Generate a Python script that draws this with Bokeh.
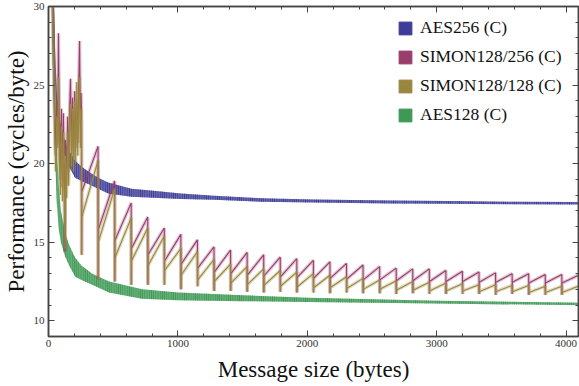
from bokeh.plotting import figure
from bokeh.models import (Range1d, LinearAxis, FixedTicker, Legend, LegendItem,
                          CustomJSTickFormatter)
from bokeh.embed import file_html
from bokeh.resources import INLINE

# ---------------- data ----------------
series_names = ["AES256 (C)", "SIMON128/256 (C)", "SIMON128/128 (C)", "AES128 (C)"]
series_colors = ["#3d3d99", "#993d6b", "#99873d", "#3d9954"]

# AES256: oscillating band, lower / upper envelope
aes256_n = [16, 32, 48, 64, 80, 96, 128, 160, 205, 256, 307, 384, 461, 640, 768,
            1024, 1280, 1643, 2048, 2642, 3072, 3584, 4096]
aes256_hi = [48.0, 34.0, 28.0, 24.5, 23.2, 22.4, 21.4, 20.8, 20.2, 19.8, 19.5, 19.1, 18.8,
             18.4, 18.3, 18.1, 17.95, 17.8, 17.72, 17.66, 17.62, 17.58, 17.56]
aes256_lo = [40.0, 30.5, 25.5, 23.0, 21.8, 21.2, 20.4, 19.8, 19.1, 18.9, 18.7, 18.4, 18.1,
             17.9, 17.85, 17.75, 17.7, 17.57, 17.52, 17.47, 17.44, 17.42, 17.4]

# AES128: oscillating band, lower / upper envelope
aes128_n = [16, 24, 32, 48, 64, 80, 96, 128, 160, 207, 256, 338, 468, 722, 1000,
            1500, 2000, 3000, 4000, 4096]
aes128_hi = [45.0, 38.0, 33.0, 27.0, 21.0, 18.5, 17.0, 15.6, 14.8, 14.0, 13.5, 13.0, 12.5,
             12.0, 11.8, 11.62, 11.47, 11.28, 11.16, 11.14]
aes128_lo = [38.0, 31.0, 27.0, 21.0, 17.5, 15.8, 15.0, 14.1, 13.5, 12.8, 12.6, 12.3, 11.8,
             11.4, 11.3, 11.25, 11.2, 11.1, 11.0, 11.0]

# SIMON, irregular region below 256 bytes
early_n = [16, 24, 32, 40, 48, 56, 64, 72, 77, 84, 92, 100, 108, 115, 122, 128, 132, 140,
           148, 156, 164, 170, 178, 186, 194, 202, 210, 218, 226, 234, 240, 246, 252, 255]
simon256_early = [38, 34, 31, 27, 23, 20.5, 24, 22, 28.3, 21.5, 19.0, 23.5, 18.5, 23.2, 18.8,
                  14.4, 21.5, 18.6, 23.0, 19.5, 23.6, 25.4, 20.8, 24.2, 20.3, 24.6, 21.0,
                  24.1, 21.3, 25.2, 27.8, 22.5, 24.5, 23.5]
simon128_early = [36, 32, 29, 25.5, 22, 19.5, 23, 21, 25.5, 20.5, 18.0, 22.4, 17.6, 22.0, 17.8,
                  14.6, 20.5, 17.8, 22.0, 18.6, 23.0, 23.8, 19.8, 23.5, 19.5, 24.0, 20.0,
                  25.2, 20.5, 24.0, 25.5, 21.0, 23.5, 22.5]

# SIMON, 128-byte teeth starting at these sizes
tooth_n = [256, 384, 512, 640, 768, 896, 1024, 1152, 1280, 1408, 1536, 1664, 1792, 1920,
           2048, 2176, 2304, 2432, 2560, 2688, 2816, 2944, 3072, 3200, 3328, 3456, 3584,
           3712, 3840, 3968]
tooth_dip = [14.2, 12.6, 12.5, 12.3, 12.3, 12.3, 12.0, 12.2, 11.9, 11.9, 11.85, 11.8, 11.85,
             11.8, 11.8, 11.75, 11.8, 11.75, 11.75, 11.7, 11.75, 11.7, 11.7, 11.7, 11.7,
             11.65, 11.7, 11.65, 11.65, 11.65]
simon256_start = [18.2, 15.8, 15.1, 14.6, 14.2, 13.8, 13.6, 13.35, 13.1, 13.0, 12.9, 12.85,
                  12.8, 12.75, 12.7, 12.7, 12.65, 12.6, 12.6, 12.55, 12.55, 12.5, 12.5, 12.5,
                  12.45, 12.45, 12.45, 12.4, 12.4, 12.4]
simon256_peak = [21.1, 18.9, 17.5, 16.6, 15.9, 15.5, 15.15, 14.7, 14.5, 14.35, 14.2, 14.05,
                 13.95, 13.85, 13.75, 13.65, 13.55, 13.45, 13.35, 13.3, 13.3, 13.2, 13.15,
                 13.1, 13.05, 13.0, 13.0, 12.95, 12.95, 12.9]
simon128_start = [16.6, 15.0, 14.0, 13.8, 13.5, 13.2, 12.9, 12.6, 12.5, 12.4, 12.3, 12.25,
                  12.2, 12.15, 12.1, 12.1, 12.05, 12.0, 12.0, 11.95, 11.95, 11.9, 11.9, 11.9,
                  11.85, 11.85, 11.85, 11.8, 11.8, 11.8]
simon128_peak = [20.2, 18.4, 16.55, 15.9, 15.4, 14.6, 14.4, 13.9, 13.6, 13.45, 13.3, 13.2,
                 13.1, 13.0, 12.9, 12.8, 12.7, 12.6, 12.55, 12.5, 12.45, 12.4, 12.35, 12.3,
                 12.3, 12.25, 12.25, 12.2, 12.2, 12.2]

x_major = [0, 1000, 2000, 3000, 4000]
x_minor = list(range(0, 4200, 200))
y_major = [10, 15, 20, 25, 30]
y_minor = list(range(9, 31))


def simon_series(early_v, starts, peaks):
    xs = list(early_n)
    ys = list(early_v)
    for n0, d, b, pk in zip(tooth_n, tooth_dip, starts, peaks):
        xs += [n0, n0 + 1, n0 + 127]
        ys += [d, b, pk]
    return xs, ys


SERIF = "Liberation Serif"
FRAME = "#444444"

p = figure(width=579, height=386, x_range=Range1d(0, 4096), y_range=Range1d(9, 30),
           output_backend="svg", toolbar_location=None,
           min_border_left=0, min_border_right=1, min_border_top=6, min_border_bottom=50)
p.grid.visible = False
p.outline_line_color = FRAME
p.outline_line_width = 1.4
p.background_fill_color = "white"

# AES bands (fast oscillation drawn as a hatched band)
for n, lo, hi, c in [(aes256_n, aes256_lo, aes256_hi, series_colors[0]),
                     (aes128_n, aes128_lo, aes128_hi, series_colors[3])]:
    p.varea(x=n, y1=lo, y2=hi, fill_color=c, fill_alpha=0.78,
            hatch_pattern="|", hatch_color=c, hatch_scale=2.2, hatch_weight=1.4)

# SIMON sawtooth lines
for early_v, st, pk, c in [(simon256_early, simon256_start, simon256_peak, series_colors[1]),
                           (simon128_early, simon128_start, simon128_peak, series_colors[2])]:
    xs, ys = simon_series(early_v, st, pk)
    p.line(xs, ys, line_color=c, line_width=3.5, line_alpha=0.3)
    p.line(xs, ys, line_color=c, line_width=1.1)

# legend swatches: hidden zero-size quads, used only for the legend glyphs
swatches = []
for c in series_colors:
    r = p.quad(left=[x_major[0]], right=[x_major[0]], top=[y_major[0]], bottom=[y_major[0]],
               fill_color=c, line_color=c)
    r.visible = False
    swatches.append(r)
legend = Legend(items=[LegendItem(label=nm, renderers=[r]) for nm, r in zip(series_names, swatches)],
                location=(349, 211), padding=0, margin=0, spacing=8,
                glyph_width=16, glyph_height=16, label_height=16, label_standoff=7,
                label_text_font=SERIF, label_text_font_size="17.5px", label_text_color="#111",
                border_line_alpha=0, background_fill_alpha=0, click_policy="none")
p.add_layout(legend, "center")

blank = CustomJSTickFormatter(code="return ''")


def style_axis(ax, ticks, minor, labels=True):
    ax.ticker = FixedTicker(ticks=ticks, minor_ticks=minor)
    ax.axis_line_color = FRAME
    ax.axis_line_width = 1.6
    ax.major_tick_line_color = FRAME
    ax.minor_tick_line_color = FRAME
    ax.major_tick_in = 6
    ax.major_tick_out = 0
    ax.minor_tick_in = 3
    ax.minor_tick_out = 0
    ax.major_label_text_font = SERIF
    ax.major_label_text_color = "#333"
    ax.major_label_text_font_size = "11px"
    if labels:
        ax.major_label_standoff = 3
    else:
        ax.formatter = blank
        ax.major_label_standoff = 0


xa = p.xaxis[0]
ya = p.yaxis[0]
style_axis(xa, x_major, x_minor)
style_axis(ya, y_major, y_minor)
for ax, lab in [(xa, "Message size (bytes)"), (ya, "Performance (cycles/byte)")]:
    ax.axis_label = lab
    ax.axis_label_text_font = SERIF
    ax.axis_label_text_font_size = "23px"
    ax.axis_label_text_font_style = "normal"
    ax.axis_label_text_color = "#111"
xa.axis_label_standoff = 7
ya.axis_label_standoff = 2
ya.major_label_standoff = 4

top = LinearAxis()
style_axis(top, x_major, x_minor, labels=False)
p.add_layout(top, "above")
right = LinearAxis()
style_axis(right, y_major, y_minor, labels=False)
p.add_layout(right, "right")

open("out.html", "w").write(file_html(p, INLINE))
